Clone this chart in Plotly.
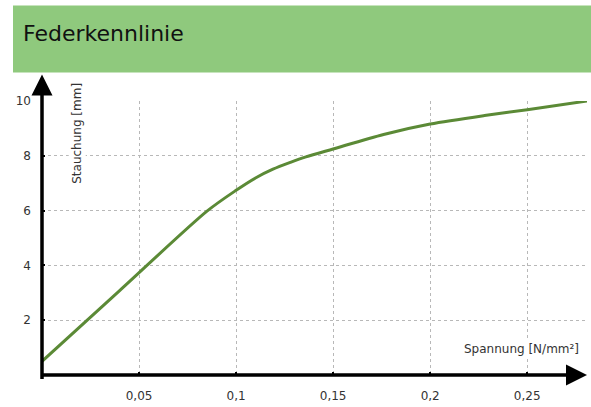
import plotly.graph_objects as go

spannung = [0.0, 0.04, 0.085, 0.1, 0.11, 0.119, 0.128, 0.136, 0.15, 0.176, 0.2, 0.228, 0.25, 0.2808]
stauchung = [0.5, 3.08, 5.98, 6.74, 7.19, 7.51, 7.76, 7.96, 8.25, 8.78, 9.16, 9.47, 9.68, 10.0]

x_ticks = [0.05, 0.1, 0.15, 0.2, 0.25]
x_tick_labels = ["0,05", "0,1", "0,15", "0,2", "0,25"]
y_ticks = [2, 4, 6, 8, 10]
y_tick_labels = ["2", "4", "6", "8", "10"]

W, H = 591, 407
ml, mr, mt, mb = 42, 4, 101, 28
pw, ph = W - ml - mr, H - mt - mb

def px_x(p):
    return (p - ml) / pw

def px_y(p):
    return (H - mb - p) / ph

font_family = "DejaVu Sans"

fig = go.Figure()
fig.add_trace(go.Scatter(
    x=spannung, y=stauchung, mode="lines",
    line=dict(color="#5b8a36", width=3, shape="spline", smoothing=0.8),
    hoverinfo="skip", showlegend=False, cliponaxis=False,
))

grid = dict(showgrid=True, gridcolor="#b8b8b8", griddash="dot", gridwidth=1,
            zeroline=False, showline=False,
            ticks="inside", ticklen=3, tickwidth=2, tickcolor="#000")

fig.update_layout(
    width=W, height=H,
    margin=dict(l=ml, r=mr, t=mt, b=mb),
    paper_bgcolor="white", plot_bgcolor="white",
    font=dict(family=font_family, size=12, color="#333"),
    xaxis=dict(range=[0, 0.2808], tickvals=x_ticks, ticktext=x_tick_labels,
               tickfont=dict(size=12, color="#333"), ticklabelstandoff=12, **grid),
    yaxis=dict(range=[0, 10], tickvals=y_ticks, ticktext=y_tick_labels,
               tickfont=dict(size=12, color="#333"), ticklabelstandoff=10, **grid),
    shapes=[
        dict(type="rect", xref="paper", yref="paper",
             x0=px_x(13), x1=px_x(W + 2), y0=px_y(72), y1=px_y(4),
             fillcolor="#8fc97d", line=dict(width=0), layer="below"),
    ],
    annotations=[
        dict(text="Federkennlinie", xref="paper", yref="paper",
             x=px_x(21), y=px_y(33), xanchor="left", yanchor="middle",
             showarrow=False, font=dict(size=22, color="#111", family=font_family)),
        # y axis arrow
        dict(xref="paper", yref="paper", x=px_x(42), y=px_y(74),
             ax=0, ay=306, showarrow=True, arrowhead=2, arrowsize=1.2,
             arrowwidth=3.5, arrowcolor="#000", text="", standoff=0),
        # x axis arrow
        dict(xref="paper", yref="paper", x=px_x(587), y=px_y(379),
             ax=-547, ay=0, showarrow=True, arrowhead=2, arrowsize=1.2,
             arrowwidth=3.5, arrowcolor="#000", text="", standoff=0),
        dict(text="Stauchung [mm]", xref="paper", yref="paper",
             x=px_x(77), y=px_y(81), xanchor="center", yanchor="top",
             textangle=-90, showarrow=False, bgcolor="white",
             font=dict(size=12, color="#333", family=font_family)),
        dict(text="Spannung [N/mm²]", xref="paper", yref="paper",
             x=px_x(581), y=px_y(353), xanchor="right", yanchor="middle",
             showarrow=False, bgcolor="white",
             font=dict(size=12, color="#333", family=font_family)),
    ],
)

fig.write_html("out.html", config={"displayModeBar": False},
               post_script="document.body.style.margin='0';")
